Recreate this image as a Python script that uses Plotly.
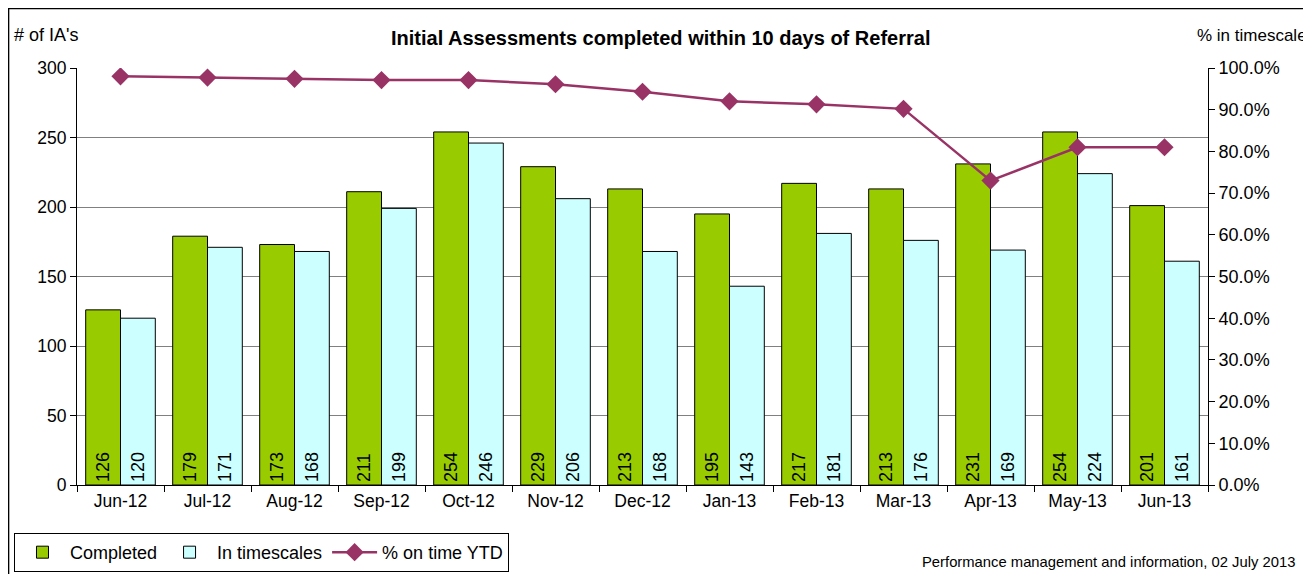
import plotly.graph_objects as go

months = ["Jun-12", "Jul-12", "Aug-12", "Sep-12", "Oct-12", "Nov-12", "Dec-12",
          "Jan-13", "Feb-13", "Mar-13", "Apr-13", "May-13", "Jun-13"]
completed = [126, 179, 173, 211, 254, 229, 213, 195, 217, 213, 231, 254, 201]
in_timescales = [120, 171, 168, 199, 246, 206, 168, 143, 181, 176, 169, 224, 161]
pct_on_time_ytd = [0.980, 0.977, 0.974, 0.971, 0.971, 0.961, 0.943,
                    0.920, 0.913, 0.902, 0.730, 0.810, 0.810]

FONT = "Liberation Sans, Arial, sans-serif"

fig = go.Figure()
fig.add_trace(go.Bar(
    x=months, y=completed, name="Completed",
    marker=dict(color="#99CC00", line=dict(color="black", width=1)),
    text=[str(v) for v in completed], textposition="inside",
    insidetextanchor="start", textangle=-90, constraintext="none",
    textfont=dict(color="black", size=18, family=FONT),
))
fig.add_trace(go.Bar(
    x=months, y=in_timescales, name="In timescales",
    marker=dict(color="#CCFFFF", line=dict(color="black", width=1)),
    text=[str(v) for v in in_timescales], textposition="inside",
    insidetextanchor="start", textangle=-90, constraintext="none",
    textfont=dict(color="black", size=18, family=FONT),
))
fig.add_trace(go.Scatter(
    x=months, y=pct_on_time_ytd, name="% on time YTD", yaxis="y2",
    mode="lines+markers",
    line=dict(color="#993366", width=2.5),
    marker=dict(symbol="diamond", size=14, color="#993366"),
))

fig.update_layout(
    width=1303, height=566,
    margin=dict(l=69, r=103, t=60, b=89, autoexpand=False),
    paper_bgcolor="white", plot_bgcolor="white",
    font=dict(family=FONT, size=17.5, color="black"),
    barmode="group", bargap=0.2, bargroupgap=0,
    showlegend=True,
    legend=dict(orientation="h", x=-0.0557, y=-0.2086, xanchor="left", yanchor="bottom",
                bordercolor="black", borderwidth=1, font=dict(size=18),
                traceorder="normal", itemwidth=45),
    xaxis=dict(range=[-0.5, 12.5], showline=True, linecolor="black", linewidth=1,
               ticks="outside", tickson="boundaries", ticklen=6, tickcolor="black",
               tickfont=dict(size=17.5), showgrid=False),
    yaxis=dict(range=[0, 300], dtick=50, showline=True, linecolor="black",
               ticks="outside", ticklen=6, tickcolor="black",
               showgrid=True, gridcolor="#808080", gridwidth=1, zeroline=False,
               tickfont=dict(size=17.5)),
    yaxis2=dict(range=[0, 1], dtick=0.1, tickformat=".1%", overlaying="y",
                side="right", showline=True, linecolor="black", ticks="outside",
                ticklen=6, tickcolor="black", showgrid=False, zeroline=False,
                tickfont=dict(size=18)),
    shapes=[dict(type="rect", xref="paper", yref="paper",
                 x0=-0.0605, x1=1.2, y0=-0.3, y1=1.1425,
                 line=dict(color="black", width=1.5), fillcolor="rgba(0,0,0,0)")],
    annotations=[
        dict(text="<b>Initial Assessments completed within 10 days of Referral</b>",
             xref="paper", yref="paper", x=0.516, y=1.072, xanchor="center",
             yanchor="middle", showarrow=False, font=dict(size=20)),
        dict(text="# of IA's", xref="paper", yref="paper", x=-0.0575, y=1.079,
             xanchor="left", yanchor="middle", showarrow=False, font=dict(size=18)),
        dict(text="% in timescale", xref="paper", yref="paper", x=0.9885, y=1.079,
             xanchor="left", yanchor="middle", showarrow=False, font=dict(size=17)),
        dict(text="Performance management and information, 02 July 2013",
             xref="paper", yref="paper", x=1.0787, y=-0.185, xanchor="right",
             yanchor="middle", showarrow=False, font=dict(size=14.8)),
    ],
)

fig.write_html("out.html")
